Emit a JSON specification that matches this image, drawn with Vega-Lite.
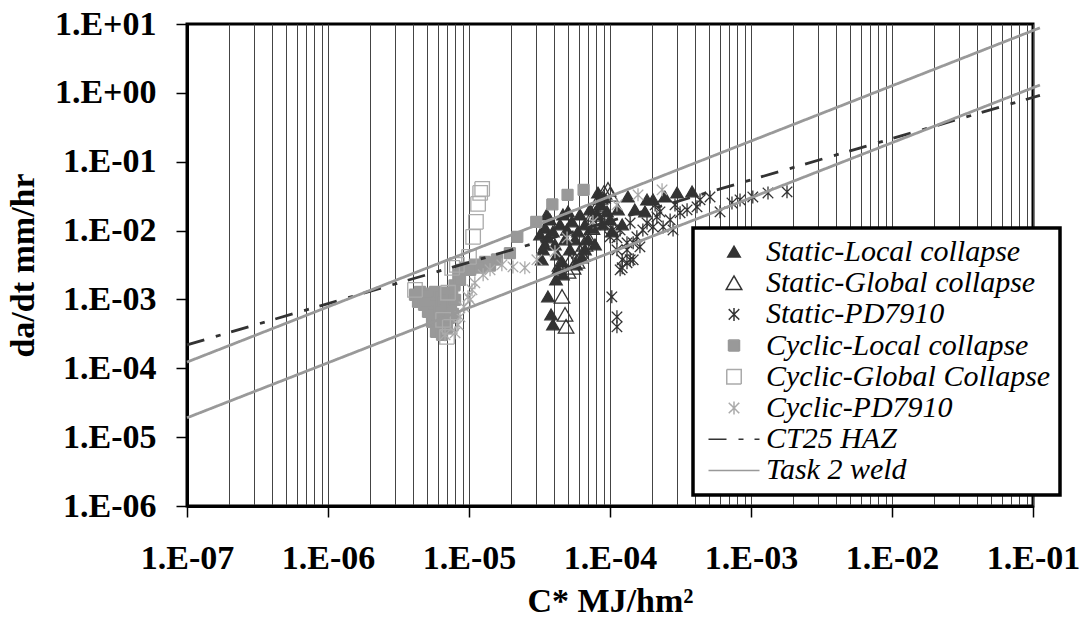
{
  "$schema": "https://vega.github.io/schema/vega-lite/v6.json",
  "width": 846,
  "height": 482,
  "autosize": {"type": "none"},
  "padding": {"left": 187, "top": 24, "right": 49, "bottom": 111},
  "background": "white",
  "datasets": {
    "pts": [
      {"s":"Static-Local collapse","x":3.63e-5,"y":1.09e-3},{"s":"Static-Local collapse","x":3.82e-5,"y":5.97e-4},{"s":"Static-Local collapse","x":3.94e-5,"y":4.28e-4},
      {"s":"Static-Local collapse","x":3.46e-5,"y":1.09e-2},{"s":"Static-Local collapse","x":3.63e-5,"y":7.84e-3},{"s":"Static-Local collapse","x":3.46e-5,"y":6.2e-3},{"s":"Static-Local collapse","x":3.75e-5,"y":1.43e-2},{"s":"Static-Local collapse","x":3.94e-5,"y":9.58e-3},{"s":"Static-Local collapse","x":4.07e-5,"y":6.2e-3},{"s":"Static-Local collapse","x":4.21e-5,"y":4.44e-3},{"s":"Static-Local collapse","x":4.28e-5,"y":2.69e-3},{"s":"Static-Local collapse","x":4.57e-5,"y":3.51e-3},{"s":"Static-Local collapse","x":4.42e-5,"y":1.21e-2},{"s":"Static-Local collapse","x":4.64e-5,"y":1.69e-2},{"s":"Static-Local collapse","x":4.8e-5,"y":7.33e-3},{"s":"Static-Local collapse","x":4.95e-5,"y":1.02e-2},{"s":"Static-Local collapse","x":5.2e-5,"y":5.25e-3},{"s":"Static-Local collapse","x":5.04e-5,"y":1.87e-2},{"s":"Static-Local collapse","x":5.37e-5,"y":1.34e-2},{"s":"Static-Local collapse","x":5.65e-5,"y":7.33e-3},{"s":"Static-Local collapse","x":5.93e-5,"y":9.58e-3},{"s":"Static-Local collapse","x":6.12e-5,"y":1.69e-2},{"s":"Static-Local collapse","x":6.33e-5,"y":4.02e-3},{"s":"Static-Local collapse","x":6.65e-5,"y":1.21e-2},{"s":"Static-Local collapse","x":6.98e-5,"y":7.33e-3},{"s":"Static-Local collapse","x":7.21e-5,"y":2.0e-2},{"s":"Static-Local collapse","x":7.45e-5,"y":1.09e-2},{"s":"Static-Local collapse","x":7.83e-5,"y":6.2e-3},{"s":"Static-Local collapse","x":8.09e-5,"y":1.69e-2},{"s":"Static-Local collapse","x":8.49e-5,"y":2.36e-2},{"s":"Static-Local collapse","x":8.78e-5,"y":1.21e-2},{"s":"Static-Local collapse","x":9.07e-5,"y":2.98e-2},{"s":"Static-Local collapse","x":9.53e-5,"y":1.87e-2},{"s":"Static-Local collapse","x":1.0e-4,"y":1.43e-2},{"s":"Static-Local collapse","x":1.03e-4,"y":9.58e-3},{"s":"Static-Local collapse","x":4.14e-5,"y":1.92e-3},{"s":"Static-Local collapse","x":4.64e-5,"y":2.28e-3},{"s":"Static-Local collapse","x":5.74e-5,"y":3.18e-3},{"s":"Static-Local collapse","x":6.65e-5,"y":5.25e-3},{"s":"Static-Local collapse","x":8.22e-5,"y":3.52e-2},{"s":"Static-Local collapse","x":1.14e-4,"y":2.0e-2},{"s":"Static-Local collapse","x":1.22e-4,"y":1.21e-2},{"s":"Static-Local collapse","x":1.34e-4,"y":3.08e-2},{"s":"Static-Local collapse","x":1.5e-4,"y":2.0e-2},{"s":"Static-Local collapse","x":1.83e-4,"y":2.79e-2},{"s":"Static-Local collapse","x":2.02e-4,"y":2.79e-2},{"s":"Static-Local collapse","x":2.45e-4,"y":3.08e-2},{"s":"Static-Local collapse","x":2.99e-4,"y":3.52e-2},{"s":"Static-Local collapse","x":3.82e-4,"y":3.65e-2},{"s":"Static-Local collapse","x":1.77e-4,"y":1.87e-2},{"s":"Static-Local collapse","x":3.19e-5,"y":8.67e-3},{"s":"Static-Local collapse","x":3.35e-5,"y":5.25e-3},{"s":"Static-Local collapse","x":3.28e-5,"y":3.76e-3},{"s":"Static-Local collapse","x":3.56e-5,"y":1.69e-2},
      {"s":"Static-Global collapse","x":4.57e-5,"y":1.09e-3},{"s":"Static-Global collapse","x":4.8e-5,"y":5.97e-4},{"s":"Static-Global collapse","x":4.88e-5,"y":4.0e-4},{"s":"Static-Global collapse","x":5.04e-5,"y":2.52e-3},{"s":"Static-Global collapse","x":5.47e-5,"y":2.88e-3},{"s":"Static-Global collapse","x":5.83e-5,"y":3.51e-3},{"s":"Static-Global collapse","x":6.12e-5,"y":4.91e-3},{"s":"Static-Global collapse","x":6.65e-5,"y":6.2e-3},{"s":"Static-Global collapse","x":6.98e-5,"y":7.84e-3},{"s":"Static-Global collapse","x":7.45e-5,"y":1.09e-2},{"s":"Static-Global collapse","x":7.83e-5,"y":1.69e-2},{"s":"Static-Global collapse","x":8.22e-5,"y":2.36e-2},{"s":"Static-Global collapse","x":8.49e-5,"y":2.98e-2},{"s":"Static-Global collapse","x":9.07e-5,"y":3.52e-2},{"s":"Static-Global collapse","x":9.68e-5,"y":3.9e-2},{"s":"Static-Global collapse","x":1.0e-4,"y":3.3e-2},{"s":"Static-Global collapse","x":8.91e-5,"y":2.0e-2},{"s":"Static-Global collapse","x":6.33e-5,"y":4.44e-3},{"s":"Static-Global collapse","x":5.2e-5,"y":3.51e-3},{"s":"Static-Global collapse","x":4.42e-5,"y":3.18e-3},{"s":"Static-Global collapse","x":7.21e-5,"y":1.43e-2},
      {"s":"Static-PD7910","x":1.03e-4,"y":1.09e-3},{"s":"Static-PD7910","x":1.12e-4,"y":5.58e-4},{"s":"Static-PD7910","x":1.12e-4,"y":4.0e-4},{"s":"Static-PD7910","x":1.0e-4,"y":8.11e-3},{"s":"Static-PD7910","x":1.05e-4,"y":1.02e-2},{"s":"Static-PD7910","x":1.12e-4,"y":7.84e-3},{"s":"Static-PD7910","x":1.12e-4,"y":5.25e-3},{"s":"Static-PD7910","x":1.18e-4,"y":1.02e-2},{"s":"Static-PD7910","x":1.18e-4,"y":2.69e-3},{"s":"Static-PD7910","x":1.22e-4,"y":3.76e-3},{"s":"Static-PD7910","x":1.22e-4,"y":2.88e-3},{"s":"Static-PD7910","x":1.32e-4,"y":6.63e-3},{"s":"Static-PD7910","x":1.32e-4,"y":5.25e-3},{"s":"Static-PD7910","x":1.32e-4,"y":3.4e-3},{"s":"Static-PD7910","x":1.39e-4,"y":1.29e-2},{"s":"Static-PD7910","x":1.39e-4,"y":3.76e-3},{"s":"Static-PD7910","x":1.46e-4,"y":6.63e-3},{"s":"Static-PD7910","x":1.46e-4,"y":3.76e-3},{"s":"Static-PD7910","x":1.55e-4,"y":8.11e-3},{"s":"Static-PD7910","x":1.63e-4,"y":5.8e-3},{"s":"Static-PD7910","x":1.71e-4,"y":1.02e-2},{"s":"Static-PD7910","x":1.83e-4,"y":1.29e-2},{"s":"Static-PD7910","x":2.02e-4,"y":1.13e-2},{"s":"Static-PD7910","x":2.15e-4,"y":1.58e-2},{"s":"Static-PD7910","x":2.38e-4,"y":1.13e-2},{"s":"Static-PD7910","x":2.26e-4,"y":1.87e-2},{"s":"Static-PD7910","x":2.67e-4,"y":1.43e-2},{"s":"Static-PD7910","x":2.8e-4,"y":1.02e-2},{"s":"Static-PD7910","x":3.14e-4,"y":1.81e-2},{"s":"Static-PD7910","x":3.52e-4,"y":2.0e-2},{"s":"Static-PD7910","x":4.14e-4,"y":2.21e-2},{"s":"Static-PD7910","x":4.35e-4,"y":2.79e-2},{"s":"Static-PD7910","x":5.12e-4,"y":3.08e-2},{"s":"Static-PD7910","x":6.03e-4,"y":1.87e-2},{"s":"Static-PD7910","x":7.33e-4,"y":2.52e-2},{"s":"Static-PD7910","x":8.36e-4,"y":2.79e-2},{"s":"Static-PD7910","x":1.03e-3,"y":3.08e-2},{"s":"Static-PD7910","x":1.32e-3,"y":3.52e-2},{"s":"Static-PD7910","x":1.8e-3,"y":3.65e-2},{"s":"Static-PD7910","x":8.49e-5,"y":1.69e-2},{"s":"Static-PD7910","x":9.22e-5,"y":1.21e-2},{"s":"Static-PD7910","x":2.09e-4,"y":2.36e-2},{"s":"Static-PD7910","x":2.89e-4,"y":2.36e-2},
      {"s":"Cyclic-Local collapse","x":4.14e-6,"y":1.17e-3},{"s":"Cyclic-Local collapse","x":4.49e-6,"y":1.29e-3},{"s":"Cyclic-Local collapse","x":4.88e-6,"y":1.21e-3},{"s":"Cyclic-Local collapse","x":5.29e-6,"y":1.13e-3},{"s":"Cyclic-Local collapse","x":5.74e-6,"y":1.29e-3},{"s":"Cyclic-Local collapse","x":6.23e-6,"y":1.09e-3},{"s":"Cyclic-Local collapse","x":6.76e-6,"y":1.25e-3},{"s":"Cyclic-Local collapse","x":4.35e-6,"y":9.23e-4},{"s":"Cyclic-Local collapse","x":4.8e-6,"y":8.35e-4},{"s":"Cyclic-Local collapse","x":5.29e-6,"y":8.93e-4},{"s":"Cyclic-Local collapse","x":5.83e-6,"y":8.07e-4},{"s":"Cyclic-Local collapse","x":6.44e-6,"y":9.23e-4},{"s":"Cyclic-Local collapse","x":6.98e-6,"y":9.87e-4},{"s":"Cyclic-Local collapse","x":5.12e-6,"y":6.61e-4},{"s":"Cyclic-Local collapse","x":5.65e-6,"y":5.97e-4},{"s":"Cyclic-Local collapse","x":6.23e-6,"y":6.61e-4},{"s":"Cyclic-Local collapse","x":6.87e-6,"y":7.06e-4},{"s":"Cyclic-Local collapse","x":5.47e-6,"y":4.73e-4},{"s":"Cyclic-Local collapse","x":6.03e-6,"y":4.28e-4},{"s":"Cyclic-Local collapse","x":6.65e-6,"y":5.06e-4},{"s":"Cyclic-Local collapse","x":7.21e-6,"y":5.41e-4},{"s":"Cyclic-Local collapse","x":5.83e-6,"y":3.39e-4},{"s":"Cyclic-Local collapse","x":6.44e-6,"y":3.06e-4},{"s":"Cyclic-Local collapse","x":6.98e-6,"y":3.87e-4},{"s":"Cyclic-Local collapse","x":7.45e-6,"y":8.07e-4},{"s":"Cyclic-Local collapse","x":7.7e-6,"y":6.18e-4},{"s":"Cyclic-Local collapse","x":7.6e-6,"y":1.17e-3},{"s":"Cyclic-Local collapse","x":7.9e-6,"y":1.6e-3},{"s":"Cyclic-Local collapse","x":8.4e-6,"y":2.3e-3},{"s":"Cyclic-Local collapse","x":9.4e-6,"y":2.9e-3},{"s":"Cyclic-Local collapse","x":1.1e-5,"y":3.2e-3},{"s":"Cyclic-Local collapse","x":1.3e-5,"y":3.5e-3},{"s":"Cyclic-Local collapse","x":1.58e-5,"y":3.8e-3},{"s":"Cyclic-Local collapse","x":1.95e-5,"y":4.7e-3},{"s":"Cyclic-Local collapse","x":2.2e-5,"y":8.1e-3},{"s":"Cyclic-Local collapse","x":3.0e-5,"y":1.34e-2},{"s":"Cyclic-Local collapse","x":3.9e-5,"y":2.4e-2},{"s":"Cyclic-Local collapse","x":5.0e-5,"y":3.3e-2},{"s":"Cyclic-Local collapse","x":6.5e-5,"y":3.9e-2},{"s":"Cyclic-Local collapse","x":8.63e-6,"y":1.92e-3},{"s":"Cyclic-Local collapse","x":8.9e-6,"y":2.69e-3},{"s":"Cyclic-Local collapse","x":1.02e-5,"y":2.69e-3},{"s":"Cyclic-Local collapse","x":1.2e-5,"y":2.9e-3},{"s":"Cyclic-Local collapse","x":1.41e-5,"y":3.1e-3},{"s":"Cyclic-Local collapse","x":7.96e-6,"y":9.87e-4},
      {"s":"Cyclic-Global Collapse","x":1.24e-5,"y":4.03e-2},{"s":"Cyclic-Global Collapse","x":1.2e-5,"y":3.52e-2},{"s":"Cyclic-Global Collapse","x":1.16e-5,"y":2.44e-2},{"s":"Cyclic-Global Collapse","x":1.12e-5,"y":1.34e-2},{"s":"Cyclic-Global Collapse","x":1.07e-5,"y":8.1e-3},{"s":"Cyclic-Global Collapse","x":1.0e-5,"y":4.15e-3},{"s":"Cyclic-Global Collapse","x":8.2e-6,"y":3.18e-3},{"s":"Cyclic-Global Collapse","x":7.6e-6,"y":2.88e-3},{"s":"Cyclic-Global Collapse","x":7.1e-6,"y":1.25e-3},{"s":"Cyclic-Global Collapse","x":7.3e-6,"y":4.0e-4},{"s":"Cyclic-Global Collapse","x":6.98e-6,"y":2.86e-4},{"s":"Cyclic-Global Collapse","x":6.55e-6,"y":5.06e-4},{"s":"Cyclic-Global Collapse","x":4.14e-6,"y":1.38e-3},
      {"s":"Cyclic-PD7910","x":6.76e-6,"y":3.06e-4},{"s":"Cyclic-PD7910","x":7.96e-6,"y":3.27e-4},{"s":"Cyclic-PD7910","x":8.36e-6,"y":4.28e-4},{"s":"Cyclic-PD7910","x":8.63e-6,"y":5.58e-4},{"s":"Cyclic-PD7910","x":9.2e-6,"y":7.8e-4},{"s":"Cyclic-PD7910","x":9.84e-6,"y":1.09e-3},{"s":"Cyclic-PD7910","x":1.05e-5,"y":1.38e-3},{"s":"Cyclic-PD7910","x":1.1e-5,"y":1.74e-3},{"s":"Cyclic-PD7910","x":1.26e-5,"y":2.28e-3},{"s":"Cyclic-PD7910","x":1.41e-5,"y":2.69e-3},{"s":"Cyclic-PD7910","x":1.71e-5,"y":3.18e-3},{"s":"Cyclic-PD7910","x":2.05e-5,"y":2.97e-3},{"s":"Cyclic-PD7910","x":2.49e-5,"y":2.88e-3},{"s":"Cyclic-PD7910","x":3.03e-5,"y":3.76e-3},{"s":"Cyclic-PD7910","x":4.07e-5,"y":4.91e-3},{"s":"Cyclic-PD7910","x":4.96e-5,"y":7.83e-3},{"s":"Cyclic-PD7910","x":7.57e-5,"y":1.34e-2},{"s":"Cyclic-PD7910","x":1.12e-4,"y":2.36e-2},{"s":"Cyclic-PD7910","x":1.58e-4,"y":3.3e-2},{"s":"Cyclic-PD7910","x":2.34e-4,"y":3.9e-2},{"s":"Cyclic-PD7910","x":1.02e-5,"y":9.9e-4}
    ],
    "lines": [
      {"s":"CT25 HAZ","g":"a","x":1e-7,"y":2.19e-4},{"s":"CT25 HAZ","g":"a","x":0.112,"y":0.92},
      {"s":"Task 2 weld","g":"b","x":1e-7,"y":1.23e-4},{"s":"Task 2 weld","g":"b","x":0.112,"y":8.8},
      {"s":"Task 2 weld","g":"c","x":1e-7,"y":1.91e-5},{"s":"Task 2 weld","g":"c","x":0.112,"y":1.3}
    ]
  },
  "layer": [
    {
      "data": {"name": "pts"},
      "mark": {"type": "point", "filled": true, "opacity": 1, "size": 100, "strokeWidth": 1.3},
      "encoding": {
        "x": {"field": "x", "type": "quantitative",
          "scale": {"type": "log", "domain": [1e-7, 0.1], "nice": false},
          "axis": {
            "title": "C* MJ/hm²",
            "values": [1e-7,2e-7,3e-7,4e-7,5e-7,6e-7,7e-7,8e-7,9e-7,1e-6,2e-6,3e-6,4e-6,5e-6,6e-6,7e-6,8e-6,9e-6,1e-5,2e-5,3e-5,4e-5,5e-5,6e-5,7e-5,8e-5,9e-5,1e-4,2e-4,3e-4,4e-4,5e-4,6e-4,7e-4,8e-4,9e-4,1e-3,2e-3,3e-3,4e-3,5e-3,6e-3,7e-3,8e-3,9e-3,1e-2,2e-2,3e-2,4e-2,5e-2,6e-2,7e-2,8e-2,9e-2,0.1],
            "labelExpr": "abs(log(datum.value)/LN10 - round(log(datum.value)/LN10)) < 0.01 ? '1.E' + (round(log(datum.value)/LN10) < 0 ? '-' : '+') + (abs(round(log(datum.value)/LN10)) < 10 ? '0' : '') + abs(round(log(datum.value)/LN10)) : ''",
            "grid": true, "gridColor": "#444444", "gridWidth": 1,
            "tickSize": 11, "tickWidth": 1.5, "tickColor": "black",
            "tickOpacity": {"condition": {"test": "abs(log(datum.value)/LN10 - round(log(datum.value)/LN10)) < 0.01", "value": 1}, "value": 0},
            "labelFlush": false, "labelOverlap": false, "labelPadding": 24,
            "titlePadding": 9
          }
        },
        "y": {"field": "y", "type": "quantitative",
          "scale": {"type": "log", "domain": [1e-6, 10], "nice": false},
          "axis": {
            "title": "da/dt mm/hr",
            "values": [1e-6,1e-5,1e-4,1e-3,1e-2,1e-1,1,10],
            "labelExpr": "'1.E' + (round(log(datum.value)/LN10) < 0 ? '-' : '+') + (abs(round(log(datum.value)/LN10)) < 10 ? '0' : '') + abs(round(log(datum.value)/LN10))",
            "grid": false, "tickSize": 11, "tickWidth": 1.5, "tickColor": "black",
            "labelFlush": false, "labelOverlap": false, "labelPadding": 20,
            "titlePadding": 14
          }
        },
        "shape": {"field": "s", "type": "nominal",
          "scale": {"domain": ["Static-Local collapse","Static-Global collapse","Static-PD7910","Cyclic-Local collapse","Cyclic-Global Collapse","Cyclic-PD7910","CT25 HAZ","Task 2 weld"],
            "range": ["M0,-1.15L1.25,1L-1.25,1Z","M0,-1.45L1.55,1.25L-1.55,1.25Z","M-1.05,-1.05L1.05,1.05M-1.05,1.05L1.05,-1.05M0,-1.3L0,1.3","M-1.1,-1.1L1.1,-1.1L1.1,1.1L-1.1,1.1Z","M-1.45,-1.45L1.45,-1.45L1.45,1.45L-1.45,1.45Z","M-1.05,-1.05L1.05,1.05M-1.05,1.05L1.05,-1.05M0,-1.3L0,1.3","M-5.1,0L5.1,0","M-5.1,0L5.1,0"]},
          "legend": {"title": null,
            "labelFont": "Liberation Serif", "labelFontStyle": "italic", "labelFontSize": 30,
            "encode": {
              "symbols": {"update": {"strokeWidth": {"signal": "indexof(['CT25 HAZ','Task 2 weld'], datum.value) >= 0 ? 3 : 1.3"}}},
              "labels": {"update": {"font": {"value": "Liberation Serif"}, "fontStyle": {"value": "italic"}, "fontSize": {"value": 30}}}
            }}
        },
        "fill": {"field": "s", "type": "nominal",
          "scale": {"domain": ["Static-Local collapse","Static-Global collapse","Static-PD7910","Cyclic-Local collapse","Cyclic-Global Collapse","Cyclic-PD7910","CT25 HAZ","Task 2 weld"],
            "range": ["#333333","transparent","transparent","#999999","transparent","transparent","transparent","transparent"]},
          "legend": {"title": null}
        },
        "stroke": {"field": "s", "type": "nominal",
          "scale": {"domain": ["Static-Local collapse","Static-Global collapse","Static-PD7910","Cyclic-Local collapse","Cyclic-Global Collapse","Cyclic-PD7910","CT25 HAZ","Task 2 weld"],
            "range": ["#333333","#333333","#333333","#999999","#aaaaaa","#aaaaaa","#333333","#999999"]},
          "legend": {"title": null}
        },
        "strokeDash": {"field": "s", "type": "nominal",
          "scale": {"domain": ["Static-Local collapse","Static-Global collapse","Static-PD7910","Cyclic-Local collapse","Cyclic-Global Collapse","Cyclic-PD7910","CT25 HAZ","Task 2 weld"],
            "range": [[1,0],[1,0],[1,0],[1,0],[1,0],[1,0],[18,12,5,11],[1,0]]},
          "legend": {"title": null}
        }
      }
    },
    {
      "data": {"name": "lines"},
      "mark": {"type": "line", "strokeWidth": 2.8, "strokeCap": "butt", "clip": false},
      "encoding": {
        "x": {"field": "x", "type": "quantitative"},
        "y": {"field": "y", "type": "quantitative"},
        "detail": {"field": "g", "type": "nominal"},
        "stroke": {"field": "s", "type": "nominal", "legend": {"title": null}},
        "strokeDash": {"field": "s", "type": "nominal", "legend": {"title": null}}
      }
    }
  ],
  "config": {
    "font": "Liberation Serif",
    "view": {"stroke": "black", "strokeWidth": 3},
    "axis": {
      "labelFont": "Liberation Serif", "labelFontWeight": "bold", "labelFontSize": 34, "labelColor": "black",
      "titleFont": "Liberation Serif", "titleFontWeight": "bold", "titleFontSize": 34, "titleColor": "black",
      "domainColor": "black", "domainWidth": 3
    },
    "legend": {
      "orient": "none", "legendX": 506, "legendY": 204,
      "padding": 9, "strokeColor": "black", "strokeWidth": 3.5, "fillColor": "white",
      "labelFont": "Liberation Serif", "labelFontStyle": "italic", "labelFontSize": 30, "labelColor": "black",
      "labelLimit": 400, "symbolSize": 100, "symbolOffset": 17, "labelOffset": 17, "rowPadding": 1.2
    }
  }
}
